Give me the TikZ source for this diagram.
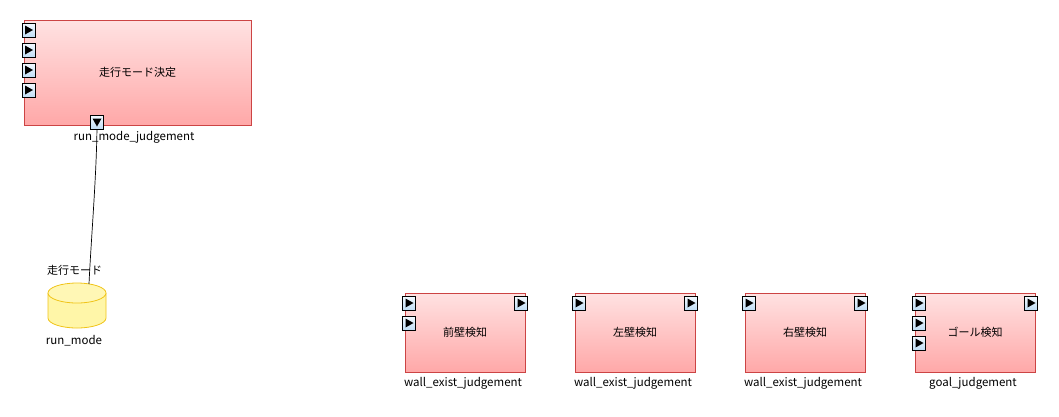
\documentclass[tikz,border=0pt]{standalone}
\usepackage{fontspec}
\setmainfont{Noto Sans CJK JP}
\definecolor{boxtop}{HTML}{FFE2E2}
\definecolor{boxbot}{HTML}{FFA8A8}
\definecolor{boxborder}{HTML}{CC4444}
\definecolor{porttop}{HTML}{F4FAFF}
\definecolor{portbot}{HTML}{BFDDF5}
\definecolor{dbfill}{HTML}{FFF6A8}
\definecolor{dbborder}{HTML}{F0C419}
\begin{document}
\begin{tikzpicture}[x=1pt,y=-1pt,
  comp/.style={draw=boxborder, line width=0.8pt, top color=boxtop, bottom color=boxbot, inner sep=0pt, font=\fontsize{11}{13}\selectfont},
  portbox/.style={draw=black, line width=0.8pt, top color=porttop, bottom color=portbot, minimum width=13pt, minimum height=14pt, inner sep=0pt},
  inport/.style={portbox, path picture={\fill[black] ([xshift=-3.5pt,yshift=4.5pt]path picture bounding box.center) -- ([xshift=4.5pt]path picture bounding box.center) -- ([xshift=-3.5pt,yshift=-4.5pt]path picture bounding box.center) -- cycle;}},
  downport/.style={portbox, path picture={\fill[black] ([xshift=-4.5pt,yshift=3.5pt]path picture bounding box.center) -- ([xshift=4.5pt,yshift=3.5pt]path picture bounding box.center) -- ([yshift=-4.5pt]path picture bounding box.center) -- cycle;}},
  lbl/.style={inner sep=0pt, font=\fontsize{11.5}{13}\selectfont},
  jlbl/.style={inner sep=0pt, font=\fontsize{11}{13}\selectfont}
]
\useasboundingbox (0,0) rectangle (1059,416);

% main component
\node[comp, minimum width=227pt, minimum height=105pt] (rmj) at (137.5,72.5) {走行モード決定};
\node[lbl] (rmjl) at (134,137) {run\_mode\_judgement};

% data store
\coordinate (dbtop) at (89,284);
\fill[dbfill] (48,293) -- (48,318) arc[start angle=180,end angle=0,x radius=29,y radius=10] -- (106,293) -- cycle;
\draw[dbborder, line width=0.8pt] (48,293) -- (48,318) arc[start angle=180,end angle=0,x radius=29,y radius=10] -- (106,293);
\draw[dbborder, line width=0.8pt, fill=dbfill!85!white] (77,293) ellipse[x radius=29, y radius=10];
\node[jlbl, anchor=west] (dbname) at (47,270) {走行モード};
\node[lbl] (dbl) at (74,341) {run\_mode};

% connector
\draw[line width=0.7pt] (97,122) .. controls (97,170) and (91,240) .. (dbtop);

% ports of main component
\node[inport] (p1) at (28.5,30) {};
\node[inport] (p2) at (28.5,50) {};
\node[inport] (p3) at (28.5,70) {};
\node[inport] (p4) at (28.5,90) {};
\node[downport] (rp) at (97,122) {};

% small components
\foreach \cx/\name/\txt/\lab in {465/fw/前壁検知/wall\_exist\_judgement, 635/lw/左壁検知/wall\_exist\_judgement, 805/rw/右壁検知/wall\_exist\_judgement, 975/gl/ゴール検知/goal\_judgement}{
  \node[comp, minimum width=120pt, minimum height=79pt] (\name) at (\cx,332.5) {\txt};
  \node[lbl] (\name l) at (\cx-2,383) {\lab};
  \node[inport] (\name i1) at (\cx-56,303) {};
  \node[inport] (\name o1) at (\cx+56,303) {};
}
\node[inport] (fwi2) at (409,323) {};
\node[inport] (gli2) at (919,323) {};
\node[inport] (gli3) at (919,343) {};
\end{tikzpicture}
\end{document}
